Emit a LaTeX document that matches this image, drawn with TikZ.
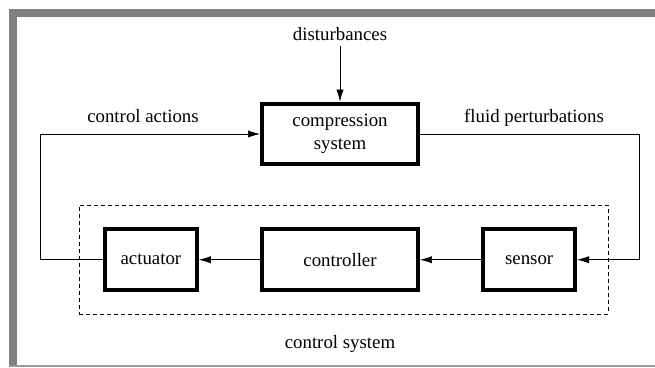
\documentclass[tikz,border=0pt]{standalone}
\usepackage{fontspec}
\setmainfont{Liberation Serif}
\usetikzlibrary{positioning,arrows.meta}

\begin{document}
\begin{tikzpicture}[
    node distance=1.53cm,
    font=\fontsize{13.4}{16.3}\selectfont,
    block/.style={rectangle, draw, line width=2.8pt, align=center,
                  minimum width=3.9cm, minimum height=1.52cm},
    small/.style={minimum width=2.3cm},
    sysbox/.style={rectangle, draw, dashed, dash pattern=on 1mm off 0.75mm,
                   line width=0.5pt},
    arrow/.style={-{Latex[length=3mm,width=1.8mm]}, line width=0.5pt},
    lbl/.style={font=\fontsize{13.4}{16.3}\selectfont},
    framegray/.style={fill=black!50, draw=none}
]
\useasboundingbox (0,0) rectangle (16.375,9.175);

%% ── Frame ────────────────────────────────────────────────────────
\fill[framegray] (0.225,8.75) rectangle (16.375,8.95);
\fill[framegray] (0.225,0.05) rectangle (0.4125,8.95);
\fill[black!40] (0.225,0) rectangle (16.375,0.05);

%% ── Nodes ────────────────────────────────────────────────────────
\node[block] (comp) at (8.5,5.825) {compression\\system};
\node[lbl, above=1.39cm of comp] (dist) {disturbances};

\node[block, below=1.525cm of comp] (ctrl) {controller};
\node[block, small, left=of ctrl]   (act)  {actuator};
\node[block, small, right=of ctrl]  (sens) {sensor};

\node[sysbox, minimum width=13.225cm, minimum height=2.725cm] (csys) at (8.5875,2.6875) {};

\node[lbl, anchor=base] (ca)   at (3.575,6.1)  {control actions};
\node[lbl, anchor=base] (fp)   at (13.35,6.1)  {fluid perturbations};
\node[lbl, anchor=base] (cslbl) at (8.5,0.475) {control system};

\coordinate (lturn) at (1.0,5.825);
\coordinate (rturn) at (15.975,5.825);

%% ── Arrows ───────────────────────────────────────────────────────
\draw[arrow] (dist)      -- (comp);
\draw[arrow] (comp.east) -- (comp.east -| rturn) |- (sens.east);
\draw[arrow] (sens)      -- (ctrl);
\draw[arrow] (ctrl)      -- (act);
\draw[arrow] (act.west)  -- (act.west -| lturn) |- (comp.west);
\end{tikzpicture}
\end{document}
